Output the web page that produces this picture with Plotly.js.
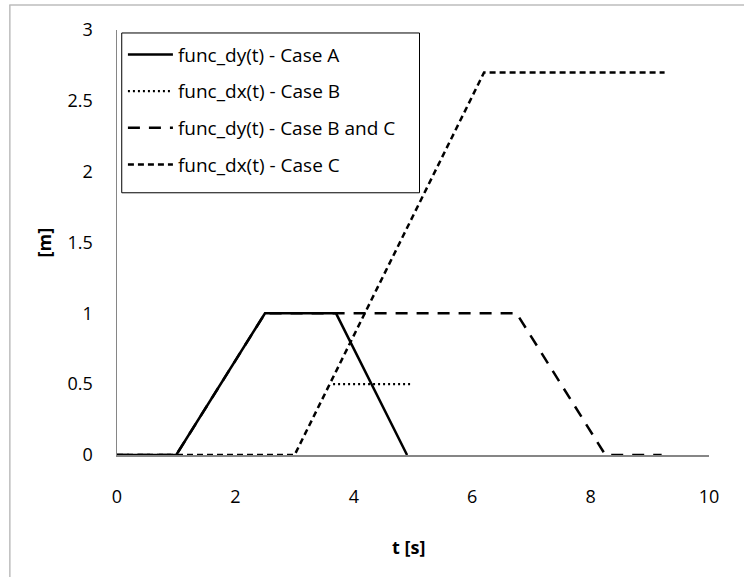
<!DOCTYPE html>
<html>
<head>
<meta charset="utf-8">
<script src="https://cdn.plot.ly/plotly-3.0.1.min.js"></script>
<style>html,body{margin:0;padding:0;background:#fff;}#chart{width:744px;height:577px;}</style>
</head>
<body>
<div id="chart"></div>
<script>
// Data
var seriesNames = ["func_dy(t) - Case A", "func_dx(t) - Case B", "func_dy(t) - Case B and C", "func_dx(t) - Case C"];
var tCaseA = [0, 1, 2.5, 3.7, 4.9];
var dyCaseA = [0, 0, 1, 1, 0];
var tCaseB = [3.65, 5.0];
var dxCaseB = [0.5, 0.5];
var tCaseBC = [0, 1, 2.5, 6.75, 8.25, 9.2];
var dyCaseBC = [0, 0, 1, 1, 0, 0];
var tCaseC = [0, 3, 6.2, 9.25];
var dxCaseC = [0, 0, 2.7, 2.7];
var xTicks = [0, 2, 4, 6, 8, 10];
var yTicks = [0, 0.5, 1, 1.5, 2, 2.5, 3];
var xTitle = "t [s]";
var yTitle = "[m]";

var FONT = "Open Sans, Liberation Sans, sans-serif";
var traces = [
  {x: tCaseA, y: dyCaseA, name: seriesNames[0], line: {color: "#000", width: 2.5, dash: "solid"}},
  {x: tCaseB, y: dxCaseB, name: seriesNames[1], line: {color: "#000", width: 2.2, dash: "2px,3px"}},
  {x: tCaseBC, y: dyCaseBC, name: seriesNames[2], line: {color: "#000", width: 2.5, dash: "12px,9px"}},
  {x: tCaseC, y: dxCaseC, name: seriesNames[3], line: {color: "#000", width: 2.5, dash: "6px,4px"}}
].map(function (t, i) {
  t.type = "scatter"; t.mode = "lines"; t.legendgroup = "g" + i; t.hoverinfo = "skip";
  return t;
});

var layout = {
  width: 744, height: 577,
  margin: {l: 117, r: 35, t: 30, b: 122},
  paper_bgcolor: "#fff", plot_bgcolor: "#fff",
  font: {family: FONT, size: 18, color: "#000"},
  showlegend: true,
  legend: {
    x: 0.01, y: 0.987, xanchor: "left", yanchor: "top",
    bgcolor: "rgba(0,0,0,0)", borderwidth: 0,
    font: {family: FONT, size: 19, color: "#000"},
    tracegroupgap: 9, itemwidth: 45, traceorder: "grouped"
  },
  xaxis: {
    range: [0, 10], tickvals: xTicks, ticktext: xTicks.map(String),
    showgrid: false, zeroline: false, showline: true, linecolor: "#868686", linewidth: 1.5,
    ticks: "", ticklen: 0, tickfont: {family: FONT, size: 18, color: "#000"}, ticklabelstandoff: 25
  },
  yaxis: {
    range: [0, 3], tickvals: yTicks, ticktext: yTicks.map(String),
    showgrid: false, zeroline: false, showline: true, linecolor: "#868686", linewidth: 1.5,
    ticks: "", ticklen: 0, tickfont: {family: FONT, size: 18, color: "#000"}, ticklabelstandoff: 19
  },
  annotations: [
    {text: "<b>" + xTitle + "</b>", xref: "paper", yref: "paper", x: 0.493, y: -0.217,
     xanchor: "center", yanchor: "middle", showarrow: false, font: {family: FONT, size: 18, color: "#000"}},
    {text: "<b>" + yTitle + "</b>", xref: "paper", yref: "paper", x: -0.125, y: 0.5,
     xanchor: "center", yanchor: "middle", textangle: -90, showarrow: false, font: {family: FONT, size: 18, color: "#000"}}
  ],
  shapes: [
    {type: "rect", xref: "paper", yref: "paper", x0: 0.008, x1: 0.511, y0: 0.617, y1: 0.993,
     line: {color: "#000", width: 1}, fillcolor: "rgba(0,0,0,0)", layer: "above"},
    {type: "line", xref: "paper", yref: "paper", x0: -0.182, x1: 1.1, y0: 1.059, y1: 1.059,
     line: {color: "#bdbdbd", width: 1.5}},
    {type: "line", xref: "paper", yref: "paper", x0: -0.181, x1: -0.181, y0: 1.059, y1: -0.3,
     line: {color: "#bdbdbd", width: 1.5}}
  ]
};

Plotly.newPlot("chart", traces, layout, {staticPlot: true, displayModeBar: false});
</script>
</body>
</html>
